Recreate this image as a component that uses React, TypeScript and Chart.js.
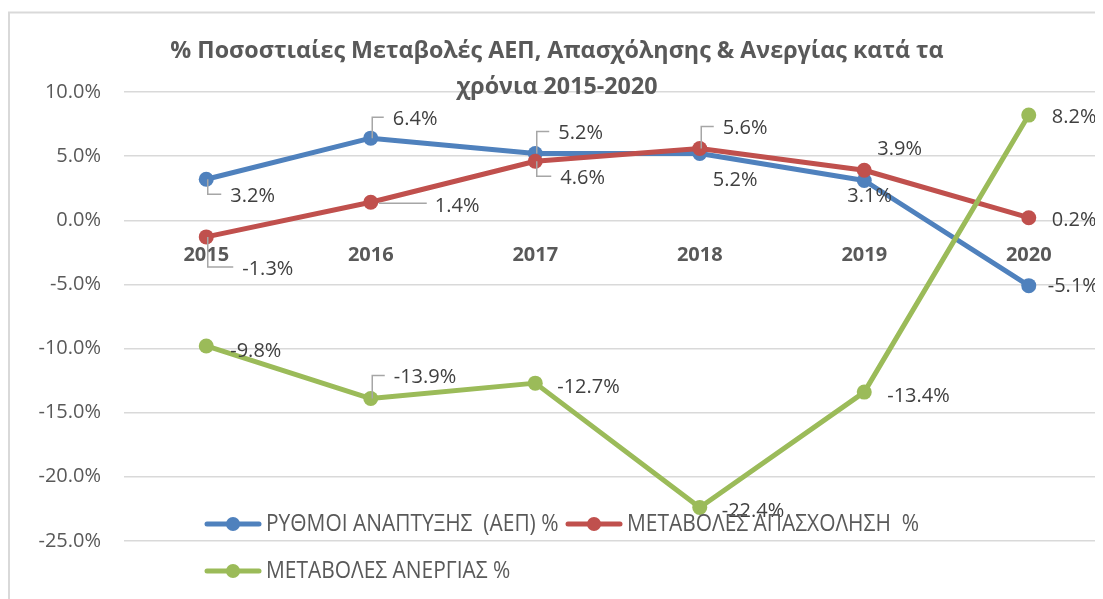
import { useEffect, useRef } from 'react';
import { Chart, registerables } from 'chart.js';

Chart.register(...registerables);

// ---------- data ----------
const years = ['2015', '2016', '2017', '2018', '2019', '2020'];
const gdpGrowth = [3.2, 6.4, 5.2, 5.2, 3.1, -5.1];
const employmentChange = [-1.3, 1.4, 4.6, 5.6, 3.9, 0.2];
const unemploymentChange = [-9.8, -13.9, -12.7, -22.4, -13.4, 8.2];
const seriesNames = [
  'ΡΥΘΜΟΙ ΑΝΑΠΤΥΞΗΣ  (ΑΕΠ) %',
  'ΜΕΤΑΒΟΛΕΣ ΑΠΑΣΧΟΛΗΣΗ  %',
  'ΜΕΤΑΒΟΛΕΣ ΑΝΕΡΓΙΑΣ %',
];
const yTickValues = [10, 5, 0, -5, -10, -15, -20, -25];
const titleLines = [
  '% Ποσοστιαίες Μεταβολές ΑΕΠ, Απασχόλησης & Ανεργίας κατά τα',
  'χρόνια 2015-2020',
];

// ---------- styling ----------
const colors = ['#4F81BD', '#C0504D', '#9BBB59'];
const FONT = '"Open Sans", "Noto Sans", sans-serif';
// data label placement: [dx, dy, leader] relative to the point
type LP = [number, number, string];
const gdpLabelPos: LP[] = [[24, 17, 'v'], [22, -19, 'v'], [23, -20, 'v'], [13, 27, ''], [-17, 16, ''], [19, 1, '']];
const empLabelPos: LP[] = [[36, 32, 'v'], [64, 4, 'h'], [25, 17, 'v'], [23, -20, 'v'], [13, -21, ''], [23, 3, '']];
const unempLabelPos: LP[] = [[24, 5, ''], [23, -21, 'v'], [22, 4, ''], [22, 4, ''], [23, 4, ''], [23, 2, '']];
const labelPositions = [gdpLabelPos, empLabelPos, unempLabelPos];
// legend item anchor positions (canvas px)
const legendSlots = [
  { x: 197, y: 516 },
  { x: 558, y: 516 },
  { x: 197, y: 563 },
];

const decorPlugin = {
  id: 'decor',
  afterDatasetsDraw(chart: any) {
    const ctx = chart.ctx;
    ctx.save();
    chart.data.datasets.forEach((ds: any, di: number) => {
      const meta = chart.getDatasetMeta(di);
      meta.data.forEach((pt: any, i: number) => {
        const [dx, dy, leader] = labelPositions[di][i];
        const px = pt.x;
        const py = pt.y;
        const lx = px + dx;
        const ly = py + dy;
        if (leader) {
          ctx.strokeStyle = '#a6a6a6';
          ctx.lineWidth = 1.5;
          ctx.beginPath();
          if (leader === 'v') {
            ctx.moveTo(px + 1.5, py);
            ctx.lineTo(px + 1.5, ly - 2);
            ctx.lineTo(lx - 9, ly - 2);
          } else {
            ctx.moveTo(px + 8, py + 1);
            ctx.lineTo(lx - 8, py + 1);
          }
          ctx.stroke();
        }
        ctx.font = `20px ${FONT}`;
        ctx.fillStyle = '#404040';
        ctx.textAlign = 'left';
        ctx.textBaseline = 'middle';
        ctx.fillText(ds.data[i].toFixed(1) + '%', lx, ly);
      });
    });
    ctx.restore();
  },
  afterDraw(chart: any) {
    const ctx = chart.ctx;
    ctx.save();
    // chart frame
    ctx.strokeStyle = '#d9d9d9';
    ctx.lineWidth = 2;
    ctx.strokeRect(1, 4.5, chart.width + 20, chart.height + 20);
    // title
    ctx.fillStyle = '#595959';
    ctx.font = `bold 24px ${FONT}`;
    ctx.textAlign = 'center';
    ctx.textBaseline = 'middle';
    titleLines.forEach((t, i) => {
      const w = ctx.measureText(t).width;
      ctx.fillText(t, 549, 43 + i * 36, w * 0.97);
    });
    // legend
    chart.data.datasets.forEach((ds: any, di: number) => {
      const s = legendSlots[di];
      ctx.strokeStyle = colors[di];
      ctx.lineWidth = 5;
      ctx.lineCap = 'round';
      ctx.beginPath();
      ctx.moveTo(s.x + 2, s.y);
      ctx.lineTo(s.x + 54, s.y);
      ctx.stroke();
      ctx.fillStyle = colors[di];
      ctx.beginPath();
      ctx.arc(s.x + 28, s.y, 7, 0, Math.PI * 2);
      ctx.fill();
      ctx.font = `23px ${FONT}`;
      ctx.fillStyle = '#595959';
      ctx.textAlign = 'left';
      ctx.textBaseline = 'middle';
      const w = ctx.measureText(ds.label).width;
      ctx.fillText(ds.label, s.x + 61, s.y, w * 0.91);
    });
    ctx.restore();
  },
};

export default function App() {
  const canvasRef = useRef<HTMLCanvasElement | null>(null);

  useEffect(() => {
    if (!canvasRef.current) return;
    const seriesData = [gdpGrowth, employmentChange, unemploymentChange];
    const orders = [3, 2, 1];
    const chart = new Chart(canvasRef.current, {
      type: 'line',
      data: {
        labels: years,
        datasets: seriesData.map((d, i) => ({
          label: seriesNames[i],
          data: d,
          borderColor: colors[i],
          backgroundColor: colors[i],
          pointBackgroundColor: colors[i],
          pointBorderColor: colors[i],
          pointBorderWidth: 0,
          pointRadius: 7.5,
          borderWidth: 5,
          borderCapStyle: 'round',
          borderJoinStyle: 'round',
          tension: 0,
          fill: false,
          order: orders[i],
        })),
      },
      options: {
        responsive: false,
        animation: false,
        layout: { padding: { left: 0, right: 27, top: 84, bottom: 23 } },
        plugins: {
          legend: { display: false },
          title: { display: false },
          tooltip: { enabled: false },
        },
        scales: {
          x: {
            type: 'category',
            position: { y: 0 } as any,
            offset: true,
            grid: { display: false },
            border: { display: false },
            ticks: {
              padding: 15,
              autoSkip: false,
              maxRotation: 0,
              color: '#595959',
              font: { family: FONT, size: 20, weight: 'bold' },
            },
            afterFit: (s: any) => {
              s.height = 0;
            },
          },
          y: {
            min: -30,
            max: 10,
            afterBuildTicks: (s: any) => {
              s.ticks = yTickValues.map((v) => ({ value: v }));
            },
            grid: { color: '#d9d9d9', lineWidth: 1.5, drawTicks: false },
            border: { display: false },
            ticks: {
              padding: 23,
              color: '#595959',
              font: { family: FONT, size: 20 },
              callback: (v: any) => Number(v).toFixed(1) + '%',
            },
            afterFit: (s: any) => {
              s.width = 116;
              s.paddingTop = 0;
              s.paddingBottom = 0;
            },
          },
        },
      },
      plugins: [decorPlugin],
    } as any);
    return () => chart.destroy();
  }, []);

  return (
    <div style={{ width: 1095, height: 591, overflow: 'hidden', position: 'relative' }}>
      <canvas ref={canvasRef} width={1130} height={620} style={{ display: 'block' }} />
    </div>
  );
}
